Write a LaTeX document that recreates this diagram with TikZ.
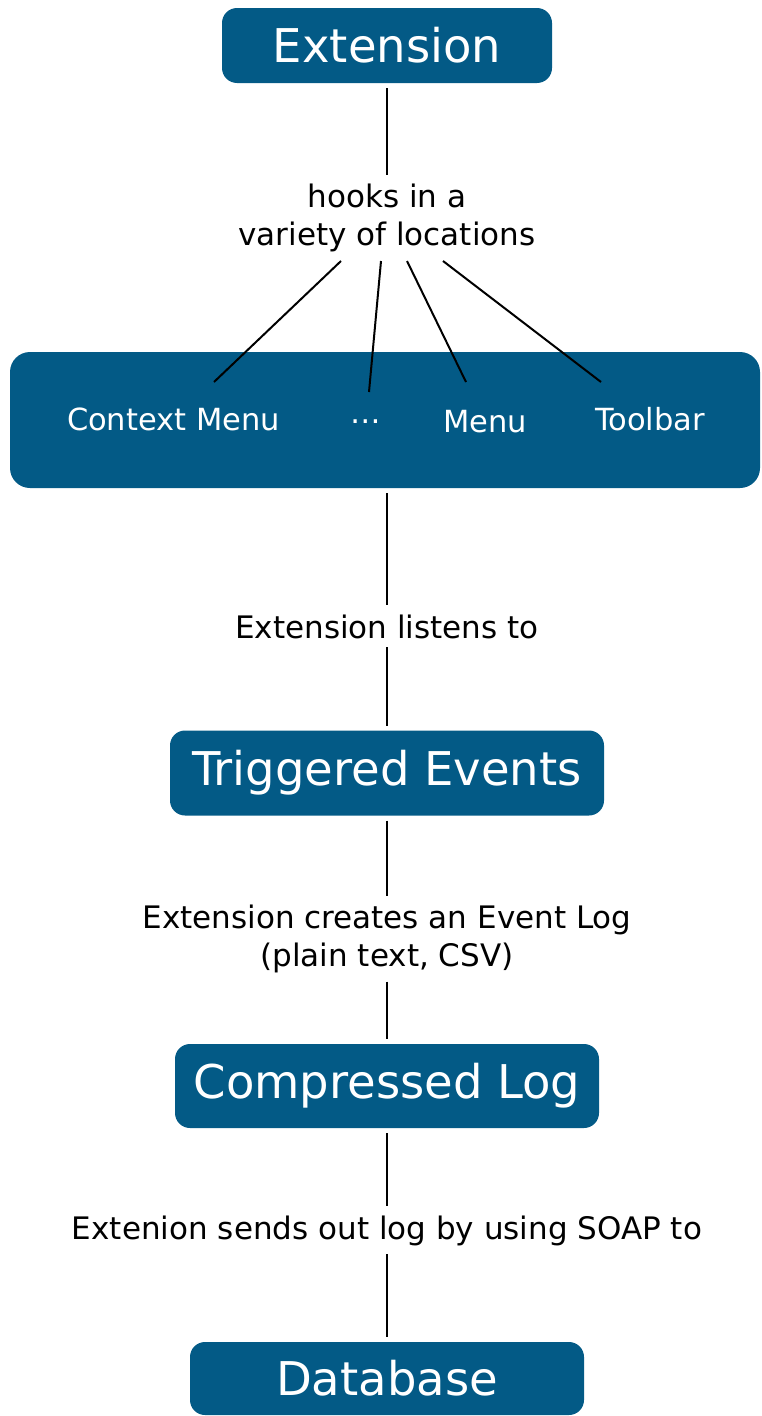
\documentclass[tikz,border=0pt]{standalone}
\usepackage{fontspec}
\setmainfont{DejaVu Sans}
\usepackage{tikz}
\usetikzlibrary{positioning, calc}
\definecolor{boxblue}{RGB}{3,90,134}

\begin{document}
\begin{tikzpicture}[x=1pt, y=-1pt, line width=2pt,
    bluebox/.style={fill=boxblue, text=white, rounded corners=15pt, outer sep=5pt,
        font=\fontsize{46.5}{54}\selectfont},
    linktext/.style={align=center, inner sep=8pt, font=\fontsize{31}{38}\selectfont},
    itemtext/.style={anchor=base, text=white, inner sep=0pt, font=\fontsize{30.5}{38}\selectfont}]

    \useasboundingbox (0,0) rectangle (761,1416);

    \draw(387,45.5) node[bluebox, minimum width=330pt, minimum height=75pt] (ext) {Extension};
    \draw(387,218) node[linktext] (hooks) {hooks in a\\variety of locations};

    \draw(385,420) node[bluebox, rounded corners=20pt, minimum width=750pt, minimum height=136pt] (menus) {};
    \draw(173.5,430) node[itemtext] (ctx) {Context Menu};
    \draw(365.5,423) node[itemtext] (dots) {…};
    \draw(485,432) node[itemtext] (menu) {Menu};
    \draw(650,430) node[itemtext] (bar) {Toolbar};

    \coordinate (ctxhook) at (214,382);
    \coordinate (dotshook) at (369,392);
    \coordinate (menuhook) at (466,382);
    \coordinate (barhook) at (601,382);

    \draw(387,638) node[linktext, anchor=base] (listens) {Extension listens to};
    \draw(387,773) node[bluebox, minimum width=434pt, minimum height=85pt] (trig) {Triggered Events};
    \draw(387,938.5) node[linktext] (creates) {Extension creates an Event Log\\(plain text, CSV)};
    \draw(387,1086) node[bluebox, minimum width=424pt, minimum height=84pt] (comp) {Compressed Log};
    \draw(387,1239) node[linktext, anchor=base] (soap) {Extenion sends out log by using SOAP to};
    \draw(387,1378.5) node[bluebox, minimum width=394pt, minimum height=73pt] (db) {Database};

    \draw (ext) -- (hooks);
    \draw ([xshift=-46pt]hooks.south) -- (ctxhook);
    \draw ([xshift=-6pt]hooks.south) -- (dotshook);
    \draw ([xshift=20pt]hooks.south) -- (menuhook);
    \draw ([xshift=56pt]hooks.south) -- (barhook);
    \draw (listens |- menus.south) -- (listens);
    \draw (listens) -- (trig);
    \draw (trig) -- (creates);
    \draw (creates) -- (comp);
    \draw (comp) -- (soap);
    \draw (soap) -- (db);

    \end{tikzpicture}
\end{document}
